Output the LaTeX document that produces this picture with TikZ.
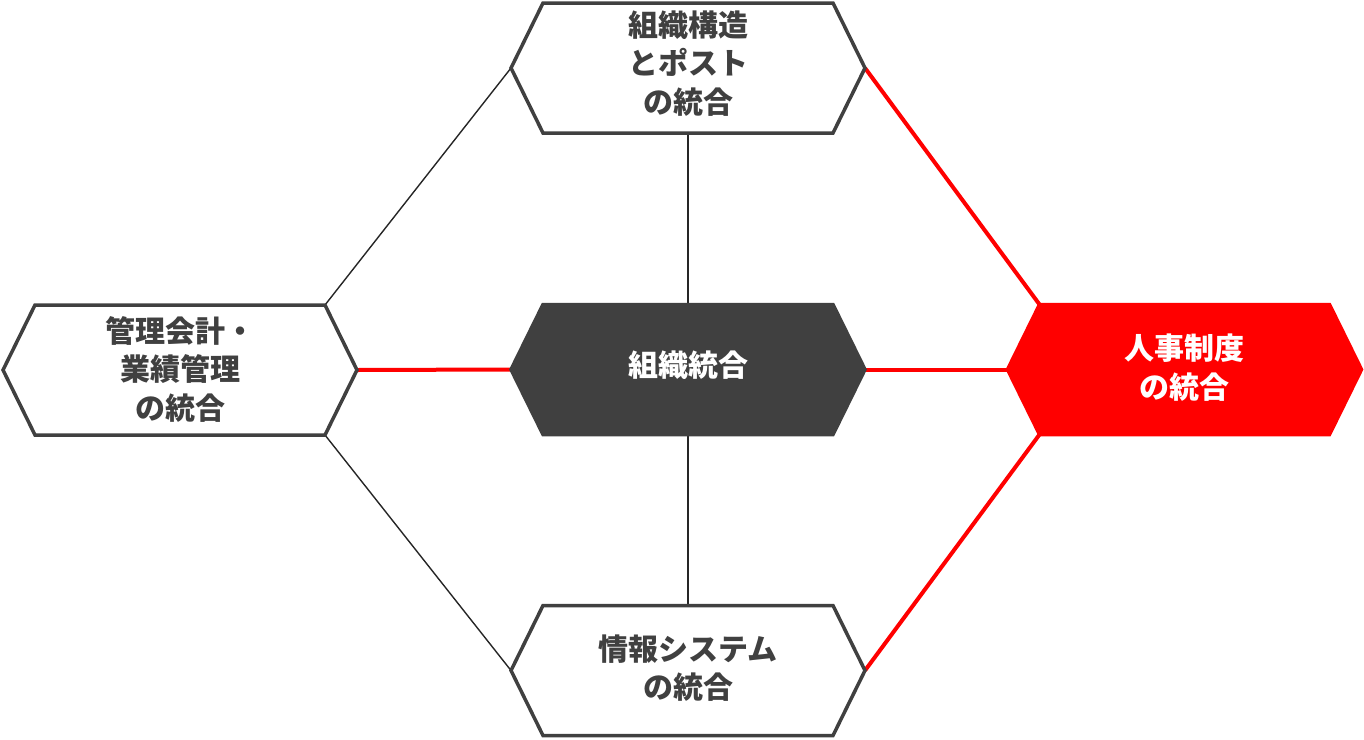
\documentclass[tikz,border=0pt]{standalone}
\usepackage{fontspec}
\newfontfamily\jpfont{Noto Sans CJK JP}
\definecolor{dgray}{HTML}{404040}
\definecolor{hred}{HTML}{FF0000}
\definecolor{lgray}{HTML}{262626}
\tikzset{
  hexnode/.style={rectangle, inner sep=0pt, outer sep=0pt, minimum width=354pt, minimum height=130pt,
    align=center, font=\jpfont\bfseries\fontsize{30}{38.5}\selectfont},
  plainhex/.style={draw=dgray, fill=white, line width=3.5pt, line join=miter},
  darkhex/.style={draw=dgray, fill=dgray, line width=3.5pt},
  redhex/.style={draw=hred, fill=hred, line width=3.5pt},
  thinlink/.style={draw=lgray, line width=1.4pt},
  redlink/.style={draw=hred, line width=4pt},
}
\newcommand{\hexpath}[2]{%
  \path[#2] (#1.west) -- ([xshift=32pt]#1.north west) -- ([xshift=-32pt]#1.north east) -- (#1.east)
    -- ([xshift=-32pt]#1.south east) -- ([xshift=32pt]#1.south west) -- cycle;}
\begin{document}
\begin{tikzpicture}[x=1pt,y=-1pt]
\useasboundingbox (0,0) rectangle (1364,739);
% named placeholder nodes (no text yet)
\path
  (688,68)     node[hexnode] (T) {}
  (688,369.5)  node[hexnode] (C) {}
  (180,370)    node[hexnode] (L) {}
  (1184.5,369.5) node[hexnode] (R) {}
  (688,670.5)  node[hexnode] (B) {};
% connectors
\draw[thinlink] (T.west) -- ([xshift=-32pt]L.north east);
\draw[thinlink] ([xshift=-32pt]L.south east) -- (B.west);
\draw[thinlink] (T.south) -- (C.north);
\draw[thinlink] (C.south) -- (B.north);
\draw[redlink] (T.east) -- ([xshift=32pt]R.north west);
\draw[redlink] ([xshift=32pt]R.south west) -- (B.east);
\draw[redlink] (L.east) -- (C.west);
\draw[redlink] (C.east) -- (R.west);
% hexagons
\hexpath{T}{plainhex}
\hexpath{L}{plainhex}
\hexpath{B}{plainhex}
\hexpath{C}{darkhex}
\hexpath{R}{redhex}
% texts
\node[hexnode, text=dgray] (Tt) at ([yshift=4.5pt]T.center) {組織構造\\とポスト\\の統合};
\node[hexnode, text=dgray] (Lt) at ([yshift=1pt]L.center) {管理会計・\\業績管理\\の統合};
\node[hexnode, text=dgray] (Bt) at ([yshift=2.5pt]B.center) {情報システム\\の統合};
\node[hexnode, text=white] (Ct) at ([yshift=4.5pt]C.center) {組織統合};
\node[hexnode, text=white] (Rt) at ([yshift=2pt]R.center) {人事制度\\の統合};
\end{tikzpicture}
\end{document}
